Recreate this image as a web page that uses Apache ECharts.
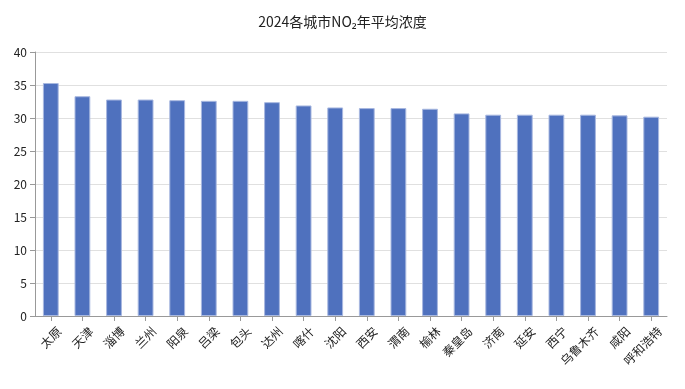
<!DOCTYPE html>
<html><head><meta charset="utf-8">
<script src="https://cdn.jsdelivr.net/npm/echarts@6/dist/echarts.min.js"></script>
<style>html,body{margin:0;padding:0;background:#fff}#c{width:685px;height:389px}</style>
</head><body><div id="c"></div>
<script>
const titleText = '2024各城市NO₂年平均浓度';
const cities = ['太原','天津','淄博','兰州','阳泉','吕梁','包头','达州','喀什','沈阳','西安','渭南','榆林','秦皇岛','济南','延安','西宁','乌鲁木齐','咸阳','呼和浩特'];
const values = [35.3,33.3,32.8,32.8,32.7,32.6,32.6,32.4,31.9,31.6,31.5,31.5,31.4,30.7,30.5,30.5,30.5,30.5,30.4,30.2];
const yTicks = {min:0, max:40, interval:5};
const font = '"Noto Sans CJK SC","Noto Sans",sans-serif';
const chart = echarts.init(document.getElementById('c'));
chart.setOption({
  animation:false,
  title:{text:titleText,left:'center',top:10,textStyle:{fontFamily:font,fontSize:14,fontWeight:'normal',color:'#222'}},
  grid:{left:35,right:18,top:52,bottom:73},
  xAxis:{type:'category',data:cities,
    axisLine:{lineStyle:{color:'#999'}},
    axisTick:{show:true,alignWithLabel:true,lineStyle:{color:'#999'}},
    axisLabel:{rotate:45,interval:0,fontFamily:font,fontSize:12,color:'#222',margin:13,
      verticalAlign:'top',padding:[0,-6,0,0]}},
  yAxis:{type:'value',min:yTicks.min,max:yTicks.max,interval:yTicks.interval,
    axisLine:{show:true,lineStyle:{color:'#999'}},
    axisTick:{show:true,lineStyle:{color:'#999'}},
    splitLine:{lineStyle:{color:'#e0e0e0'}},
    axisLabel:{fontFamily:font,fontSize:12,color:'#222'}},
  series:[{type:'bar',data:values,barWidth:'50%',
    itemStyle:{color:'#4f71be',borderColor:'#a8b8e0',borderWidth:1}}]
});
</script></body></html>
